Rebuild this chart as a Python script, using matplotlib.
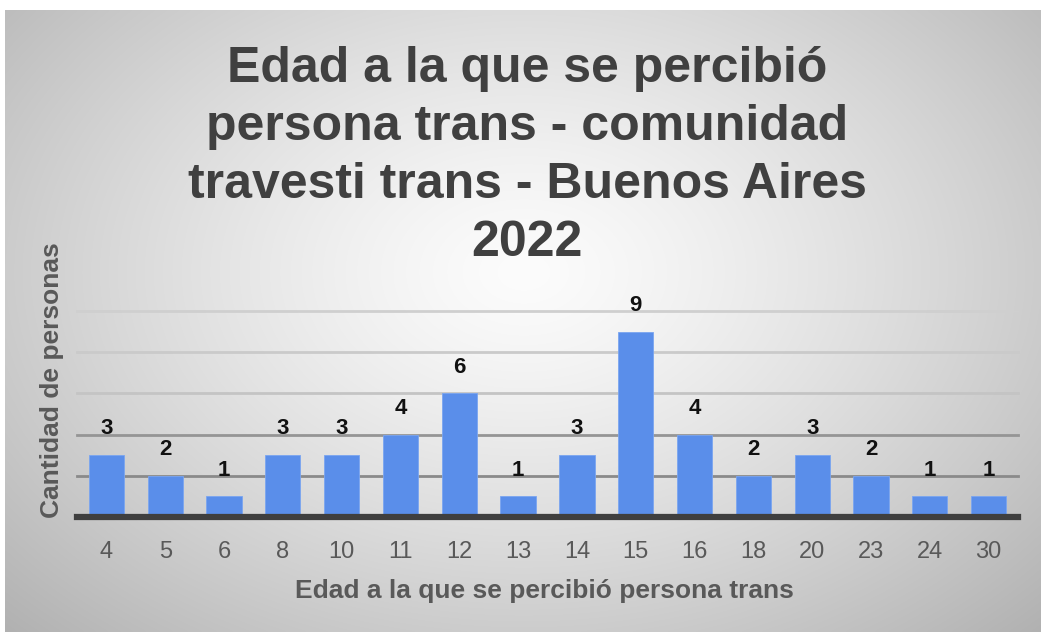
import numpy as np
import matplotlib
matplotlib.use("Agg")
import matplotlib.pyplot as plt

# ---- data ----
ages = ["4", "5", "6", "8", "10", "11", "12", "13", "14", "15", "16", "18", "20", "23", "24", "30"]
counts = [3, 2, 1, 3, 3, 4, 6, 1, 3, 9, 4, 2, 3, 2, 1, 1]
title = "Edad a la que se percibió\npersona trans - comunidad\ntravesti trans - Buenos Aires\n2022"
xlabel = "Edad a la que se percibió persona trans"
ylabel = "Cantidad de personas"
grid_levels = [2, 4, 6, 8, 10]

FAM = ["Liberation Sans", "DejaVu Sans"]
W, H = 1041, 632
fig = plt.figure(figsize=(W / 100, H / 100), dpi=100)
fig.patch.set_facecolor("white")

# background radial gradient panel
bg = fig.add_axes([5 / W, 0, 1 - 5 / W, 1 - 10 / H])
bg.set_axis_off()
ny, nx = 300, 500
yy, xx = np.mgrid[0:ny, 0:nx]
cx, cy = nx * 0.5, ny * 0.42
r = np.sqrt(((xx - cx) / (nx * 0.5)) ** 2 + ((yy - cy) / (ny * 0.58)) ** 2)
val = np.clip(252 - 48 * r ** 1.3, 170, 255) / 255.0
img = np.dstack([val, val, val])
bg.imshow(img, aspect="auto", extent=[0, 1, 0, 1], origin="upper", interpolation="bicubic")
bg.set_xlim(0, 1)
bg.set_ylim(0, 1)

# main axes
ax = fig.add_axes([77 / W, 1 - 517 / H, (1018 - 77) / W, (517 - 311) / H])
ax.patch.set_alpha(0)
x = np.arange(len(ages))
ax.set_xlim(-0.5, len(ages) - 0.5)
ax.set_ylim(0, 10)

grid_colors = {2: "#8a8a8a", 4: "#959595", 6: "#c4c4c4", 8: "#cacaca", 10: "#cfcfcf"}
for g in grid_levels:
    ax.axhline(g, color=grid_colors[g], lw=2.0, zorder=1, clip_on=False)

ax.bar(x, counts, width=0.6, color="#5a8eea", edgecolor="#7aa5f0", linewidth=0.6, zorder=2)
ax.axhline(0, color="#3f3f3f", lw=4.5, zorder=3, clip_on=False)

for xi, c in zip(x, counts):
    ax.annotate(str(c), (xi, c), xytext=(0, 19), textcoords="offset points",
                ha="center", va="center", fontsize=16, fontweight="bold",
                color="#111111", family=FAM)

for s in ax.spines.values():
    s.set_visible(False)
ax.set_yticks([])
ax.set_xticks(x)
ax.set_xticklabels(ages, fontsize=17, color="#595959", family=FAM)
ax.tick_params(axis="x", length=0, pad=17)

fig.text(544 / W, 1 - 591 / H, xlabel, ha="center", va="center", fontsize=19,
         fontweight="bold", color="#595959", family=FAM)
fig.text(52 / W, 1 - 380 / H, ylabel, ha="center", va="center", rotation=90,
         fontsize=19, fontweight="bold", color="#595959", family=FAM)

fig.text(527 / W, 1 - 156 / H, title, ha="center", va="center", fontsize=36,
         fontweight="bold", color="#404040", linespacing=1.33, family=FAM)

fig.savefig("out.png", dpi=100)
